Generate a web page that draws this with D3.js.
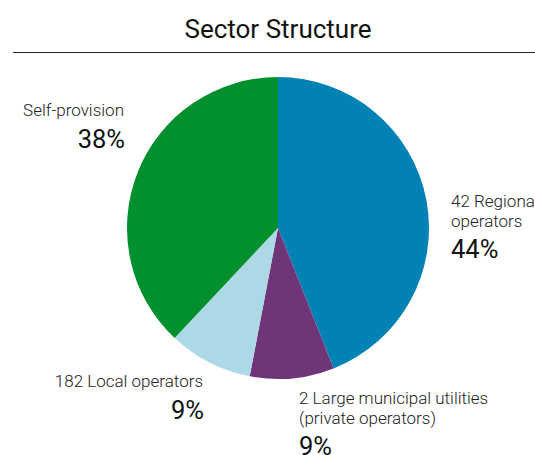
<!DOCTYPE html>
<html>
<head>
<meta charset="utf-8">
<script src="https://cdn.jsdelivr.net/npm/d3@7"></script>
<style>
  body { margin: 0; background: #fff; }
  svg { display: block; font-family: Roboto, sans-serif; }
</style>
</head>
<body>
<svg id="chart" width="535" height="455"></svg>
<script>
// slices clockwise from 12 o'clock
var categories = [ '42 Regional operators', '2 Large municipal utilities (private operators)', '182 Local operators', 'Self-provision' ];
var shares = [ 44, 9, 9, 38 ];
var colors = [ '#0082b4', '#6e3678', '#add8e6', '#02902f' ];
// label text split into the lines shown in the picture
var labelLines = [
    [ '42 Regional', 'operators' ],
    [ '2 Large municipal utilities', '(private operators)' ],
    [ '182 Local operators' ],
    [ 'Self-provision' ]
];

(function(){
    'use strict';

    var svg = d3.select( '#chart' ),
        cx = 278,
        cy = 228,
        radius = 151;

    svg.append( 'text' )
        .attr( 'x', 278 )
        .attr( 'y', 38 )
        .attr( 'text-anchor', 'middle' )
        .attr( 'font-size', 26 )
        .attr( 'fill', '#111' )
        .text( 'Sector Structure' );

    svg.append( 'line' )
        .attr( 'x1', 13 ).attr( 'x2', 535 )
        .attr( 'y1', 52.5 ).attr( 'y2', 52.5 )
        .attr( 'stroke', '#222' )
        .attr( 'stroke-width', 1 );

    var pie = d3.pie().sort( null ).value( function( d ){ return d; } ),
        arc = d3.arc().innerRadius( 0 ).outerRadius( radius ),
        arcs = pie( shares );

    var g = svg.append( 'g' )
        .attr( 'transform', 'translate(' + cx + ',' + cy + ')' );

    g.selectAll( 'path' )
        .data( arcs )
        .enter().append( 'path' )
        .attr( 'd', arc )
        .attr( 'fill', function( d, i ){ return colors[i]; } );

    // label boxes: x, anchor, baseline of first line
    var placement = [
        { x: 451, anchor: 'start', y: 207 },
        { x: 299, anchor: 'start', y: 404 },
        { x: 203, anchor: 'end', y: 387 },
        { x: 124, anchor: 'end', y: 116 }
    ];

    var pctFmt = function( v ){ return v + '%'; };

    placement.forEach(function( p, i ){
        var lines = labelLines[i],
            t = svg.append( 'text' )
                .attr( 'text-anchor', p.anchor )
                .attr( 'font-size', 17 )
                .attr( 'font-weight', 300 )
                .attr( 'fill', '#222' );

        lines.forEach(function( s, k ){
            t.append( 'tspan' )
                .attr( 'x', p.x )
                .attr( 'y', p.y + k * 20 )
                .text( s );
        });

        svg.append( 'text' )
            .attr( 'x', p.anchor === 'end' ? p.x + 1 : p.x )
            .attr( 'y', p.y + ( lines.length - 1 ) * 20 + ( lines.length > 1 ? 31 : 32 ) )
            .attr( 'text-anchor', p.anchor )
            .attr( 'font-size', 25.5 )
            .attr( 'fill', '#111' )
            .text( pctFmt( shares[i] ) );
    });
})();
</script>
</body>
</html>
